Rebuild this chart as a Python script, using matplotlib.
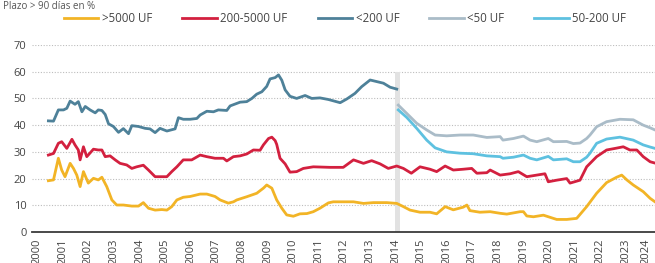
import matplotlib
matplotlib.use('agg')
import matplotlib.pyplot as plt
import numpy as np

# values (year, percent)
years_big = [2000.44, 2000.64, 2000.83, 2000.96, 2001.09, 2001.29, 2001.42, 2001.55, 2001.68, 2001.81,
             2002.00, 2002.20, 2002.39, 2002.53, 2002.72, 2002.92, 2003.11, 2003.37, 2003.70, 2003.96,
             2004.15, 2004.35, 2004.61, 2004.87, 2005.07, 2005.26, 2005.46, 2005.71, 2005.98, 2006.37,
             2006.63, 2006.95, 2007.15, 2007.47, 2007.67, 2007.80, 2008.19, 2008.58, 2008.84, 2008.97,
             2009.17, 2009.36, 2009.56, 2009.75, 2010.01, 2010.27, 2010.54, 2010.79, 2011.05, 2011.38,
             2011.57, 2011.84, 2012.36, 2012.75, 2013.14, 2013.66, 2014.05, 2014.31, 2014.57, 2014.96,
             2015.35, 2015.61, 2015.87, 2015.94, 2016.26, 2016.65, 2016.79, 2016.91, 2017.30, 2017.70,
             2018.09, 2018.35, 2018.87, 2019.00, 2019.13, 2019.39, 2019.78, 2020.04, 2020.30, 2020.69,
             2021.08, 2021.47, 2021.86, 2022.25, 2022.64, 2022.84, 2023.04, 2023.29, 2023.68, 2023.95,
             2024.14]
big = [19.2, 19.5, 27.6, 23.2, 20.7, 25.7, 23.8, 21.3, 17.0, 22.6,
       18.3, 20.1, 19.5, 20.5, 17.0, 12.0, 10.1, 10.1, 9.7, 9.7,
       11.0, 8.9, 8.2, 8.4, 8.2, 9.5, 12.0, 13.0, 13.3, 14.2,
       14.2, 13.3, 12.0, 10.8, 11.3, 12.0, 13.2, 14.5, 16.4, 17.6,
       16.4, 12.0, 8.9, 6.4, 5.9, 6.8, 6.9, 7.6, 8.9, 10.9,
       11.3, 11.3, 11.3, 10.7, 11.0, 11.0, 10.7, 9.5, 8.2, 7.4,
       7.4, 6.8, 8.9, 9.5, 8.3, 9.3, 10.1, 8.0, 7.4, 7.6,
       7.0, 6.7, 7.6, 7.6, 6.0, 5.7, 6.3, 5.5, 4.7, 4.7,
       5.1, 9.5, 14.5, 18.5, 20.5, 21.3, 19.5, 17.6, 15.1, 12.6,
       11.3]

years_mid = [2000.44, 2000.64, 2000.83, 2000.96, 2001.16, 2001.36, 2001.48, 2001.61, 2001.68, 2001.81,
             2001.94, 2002.20, 2002.39, 2002.53, 2002.66, 2002.85, 2003.05, 2003.24, 2003.50, 2003.70,
             2003.89, 2004.15, 2004.35, 2004.61, 2004.80, 2005.07, 2005.26, 2005.46, 2005.71, 2006.04,
             2006.37, 2006.63, 2006.95, 2007.28, 2007.41, 2007.67, 2007.93, 2008.19, 2008.45, 2008.71,
             2008.84, 2009.04, 2009.17, 2009.30, 2009.36, 2009.49, 2009.69, 2009.88, 2010.14, 2010.40,
             2010.79, 2011.12, 2011.45, 2011.96, 2012.36, 2012.75, 2013.07, 2013.40, 2013.72, 2014.05,
             2014.31, 2014.62, 2014.96, 2015.35, 2015.61, 2015.94, 2016.26, 2016.65, 2016.98, 2017.18,
             2017.57, 2017.70, 2018.09, 2018.48, 2018.80, 2019.13, 2019.52, 2019.84, 2019.97, 2020.30,
             2020.69, 2020.82, 2021.21, 2021.47, 2021.86, 2022.25, 2022.64, 2022.90, 2023.16, 2023.43,
             2023.68, 2023.95, 2024.14]
mid = [28.8, 29.4, 33.2, 33.8, 31.3, 34.7, 32.6, 30.7, 27.0, 31.9,
       28.2, 31.0, 30.7, 30.7, 28.2, 28.5, 27.0, 25.7, 25.1, 23.8,
       24.4, 25.0, 23.2, 20.7, 20.7, 20.7, 22.6, 24.4, 27.0, 27.0,
       28.8, 28.2, 27.6, 27.6, 26.6, 28.2, 28.5, 29.2, 30.7, 30.6,
       32.6, 35.0, 35.5, 34.2, 32.8, 27.6, 25.5, 22.4, 22.6, 23.8,
       24.4, 24.3, 24.2, 24.2, 27.0, 25.7, 26.7, 25.5, 23.8, 24.7,
       23.8, 22.0, 24.4, 23.5, 22.6, 24.7, 23.2, 23.5, 23.8, 22.0,
       22.2, 23.2, 21.3, 21.8, 22.6, 20.7, 21.3, 21.8, 18.8, 19.4,
       20.0, 18.3, 19.4, 24.4, 28.2, 30.7, 31.4, 31.9, 30.7, 30.7,
       28.2, 26.3, 25.8]

years_small = [2000.44, 2000.64, 2000.83, 2001.03, 2001.16, 2001.29, 2001.48, 2001.61, 2001.75, 2001.88,
               2002.07, 2002.27, 2002.39, 2002.53, 2002.66, 2002.79, 2002.98, 2003.18, 2003.37, 2003.57,
               2003.70, 2003.96, 2004.22, 2004.41, 2004.61, 2004.80, 2005.07, 2005.39, 2005.52, 2005.71,
               2005.98, 2006.24, 2006.37, 2006.63, 2006.89, 2007.08, 2007.41, 2007.54, 2007.93, 2008.19,
               2008.39, 2008.58, 2008.78, 2008.97, 2009.10, 2009.30, 2009.43, 2009.56, 2009.69, 2009.88,
               2010.14, 2010.47, 2010.73, 2011.05, 2011.38, 2011.84, 2012.10, 2012.42, 2012.68, 2013.01,
               2013.27, 2013.53, 2013.79, 2014.05]
small = [41.6, 41.5, 45.7, 45.7, 46.3, 49.0, 47.8, 48.8, 45.0, 47.0,
         45.7, 44.6, 45.7, 45.5, 44.0, 40.5, 39.5, 37.3, 38.7, 36.8,
         39.8, 39.5, 38.8, 38.6, 37.2, 38.8, 37.8, 38.6, 42.8, 42.2,
         42.2, 42.5, 43.8, 45.2, 45.0, 45.7, 45.5, 47.2, 48.6, 48.8,
         50.0, 51.6, 52.5, 54.5, 57.3, 57.8, 58.8, 56.8, 53.2, 50.8,
         50.0, 51.1, 50.0, 50.2, 49.6, 48.4, 49.8, 51.9, 54.4, 56.9,
         56.3, 55.7, 54.2, 53.5]

years_new = [2014.11, 2014.44, 2014.83, 2015.22, 2015.55, 2016.00, 2016.52, 2017.04, 2017.57, 2018.09,
             2018.20, 2018.61, 2019.00, 2019.26, 2019.52, 2019.97, 2020.17, 2020.69, 2020.95, 2021.21,
             2021.47, 2021.60, 2021.86, 2022.25, 2022.77, 2023.29, 2023.68, 2023.95, 2024.14]
under50 = [47.5, 44.4, 40.7, 38.2, 36.3, 36.0, 36.3, 36.3, 35.4, 35.7,
           34.4, 35.0, 35.9, 34.4, 33.8, 35.0, 33.8, 33.9, 33.1, 33.3,
           35.0, 36.3, 39.4, 41.3, 42.2, 42.0, 40.0, 39.0, 38.2]
from50to200 = [45.7, 42.9, 38.8, 34.4, 31.5, 30.0, 29.5, 29.3, 28.5, 28.2,
               27.6, 28.0, 28.8, 27.6, 27.0, 28.3, 27.0, 27.4, 26.3, 26.3,
               28.0, 29.5, 33.2, 34.8, 35.5, 34.4, 32.6, 31.8, 31.3]

year_ticks = list(range(2000, 2025))

plt.rcParams['font.family'] = ['Open Sans', 'DejaVu Sans']

fig = plt.figure(figsize=(6.55, 2.63), dpi=100)
ax = fig.add_axes([32 / 655, 31 / 263, 1 - 32 / 655, 187 / 263])

ax.axvspan(2013.98, 2014.18, ymin=0, ymax=60 / 70, color='#e2e2e2', lw=0, zorder=1)

lw = 2.0
ax.plot(years_big, big, color='#f2b426', lw=lw, label='>5000 UF', zorder=3)
ax.plot(years_mid, mid, color='#d3203f', lw=lw, label='200-5000 UF', zorder=3)
ax.plot(years_small, small, color='#4e8199', lw=lw, label='<200 UF', zorder=3)
ax.plot(years_new, under50, color='#aabcc8', lw=lw, label='<50 UF', zorder=3)
ax.plot(years_new, from50to200, color='#5ec1e0', lw=lw, label='50-200 UF', zorder=3)

ax.set_xlim(1999.80, 2024.14)
ax.set_ylim(0, 70)
ax.set_yticks(range(0, 71, 10))
ax.set_xticks(year_ticks)
ax.set_xticklabels([str(y) for y in year_ticks], rotation=90, va='top', ha='center')
# keep the last year label inside the frame
ax.get_xticklabels()[-1].set_ha('right')

for v in range(10, 71, 10):
    ax.axhline(v, color='#bdbdbd', lw=0.8, ls=(0, (1, 1.5)), zorder=0)

for s in ['top', 'right', 'left']:
    ax.spines[s].set_visible(False)
ax.spines['bottom'].set_color('#3a3a3a')
ax.spines['bottom'].set_linewidth(1.3)
ax.tick_params(axis='both', length=0, labelsize=8, colors='#444444')
ax.tick_params(axis='x', pad=5)
ax.tick_params(axis='y', pad=4)

fig.legend(loc='center', bbox_to_anchor=(0.527, 0.93), ncol=5, frameon=False,
           fontsize=8.3, handlelength=3.0, handletextpad=0.3, columnspacing=2.6,
           labelcolor='#444444')

fig.text(0.005, 0.998, 'Plazo > 90 días en %', fontsize=7, color='#555555',
         va='top', ha='left')

fig.savefig('out.png', dpi=100)
